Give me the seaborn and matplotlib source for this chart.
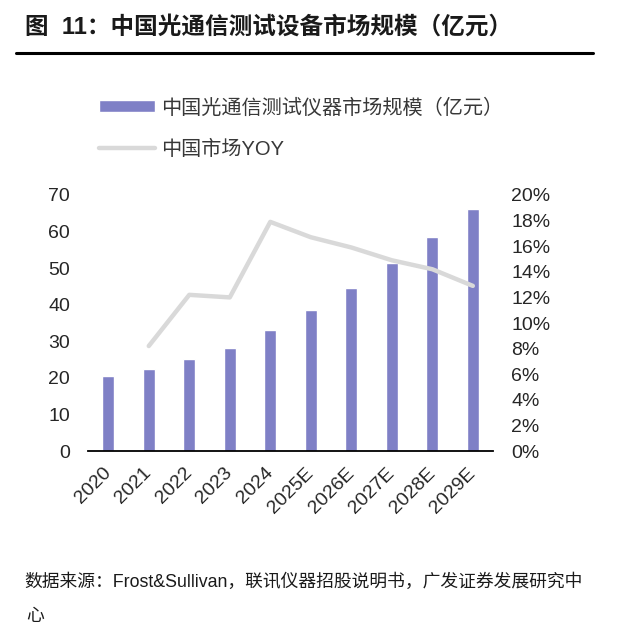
import numpy as np
import pandas as pd
import matplotlib
matplotlib.use('Agg')
import matplotlib.pyplot as plt
from matplotlib.ticker import PercentFormatter
import seaborn as sns

# Data
years = ['2020', '2021', '2022', '2023', '2024',
         '2025E', '2026E', '2027E', '2028E', '2029E']
market_size = [20.5, 22.3, 25.1, 28.1, 33.0, 38.6, 44.7, 51.3, 58.5, 66.1]
yoy_years = years[1:]
yoy = [0.082, 0.122, 0.120, 0.179, 0.167, 0.159, 0.149, 0.142, 0.129]

title = '图  11：中国光通信测试设备市场规模（亿元）'
bar_label = '中国光通信测试仪器市场规模（亿元）'
line_label = '中国市场YOY'
source = '数据来源：Frost&Sullivan，联讯仪器招股说明书，广发证券发展研究中'

bar_color = '#7f80c6'
line_color = '#d9d9d9'

sns.set_style('white')
plt.rcParams['font.family'] = ['Liberation Sans', 'Noto Sans CJK SC']

bars_df = pd.DataFrame({'year': years, 'size': market_size})
yoy_df = pd.DataFrame({'year': yoy_years, 'yoy': yoy})

fig = plt.figure(figsize=(6.33, 6.30), dpi=100)
ax = fig.add_axes([0.139, 0.2841, 0.640, 0.4064])

sns.barplot(data=bars_df, x='year', y='size', color=bar_color,
            width=0.30, saturation=1, ax=ax, label=bar_label)

ax2 = ax.twinx()
sns.lineplot(data=yoy_df, x='year', y='yoy', color=line_color,
             linewidth=3.2, ax=ax2, label=line_label, sort=False)
for ln in ax2.lines:
    ln.set_solid_capstyle('round')

ax.set_xlim(-0.5, 9.5)
ax.set_ylim(0, 70)
ax.set_yticks(np.arange(0, 71, 10))
ax2.set_ylim(0, 0.20)
ax2.set_yticks(np.arange(0, 0.201, 0.02))
ax2.yaxis.set_major_formatter(PercentFormatter(1.0, decimals=0))

ax.set_xlabel('')
ax.set_ylabel('')
ax2.set_ylabel('')

for a in (ax, ax2):
    for side in ('top', 'right', 'left', 'bottom'):
        a.spines[side].set_visible(False)
ax.spines['bottom'].set_visible(True)
ax.spines['bottom'].set_color('black')
ax.spines['bottom'].set_linewidth(1.3)

ax.tick_params(axis='y', length=0, pad=13, labelsize=14)
ax2.tick_params(axis='y', length=0, pad=13, labelsize=14)
ax.tick_params(axis='x', length=0, pad=14, labelsize=14)
for lbl in ax.get_xticklabels():
    lbl.set_rotation(45)
    lbl.set_ha('right')
    lbl.set_va('center')
    lbl.set_rotation_mode('anchor')

# legend
handles = ax.get_legend_handles_labels()[0] + ax2.get_legend_handles_labels()[0]
labels = [bar_label, line_label]
if ax.get_legend():
    ax.get_legend().remove()
if ax2.get_legend():
    ax2.get_legend().remove()
leg = fig.legend(handles, labels, loc='upper left',
                 bbox_to_anchor=(0.143, 0.857), frameon=False,
                 fontsize=14.5, handlelength=2.8, handleheight=0.55,
                 handletextpad=0.3, labelspacing=1.1, borderaxespad=0)
for t in leg.get_texts():
    t.set_color('#383838')

# title, rule and source
fig.text(0.039, 0.957, title, fontsize=17, fontweight='bold',
         va='center', ha='left', color='#1a1a1a')
fig.add_artist(plt.Line2D([0.025, 0.937], [0.916, 0.916],
                          color='black', linewidth=2.2))
fig.text(0.039, 0.076, source, fontsize=12.8, va='center', ha='left',
         color='#1a1a1a')
fig.text(0.042, 0.022, '心', fontsize=12.8, va='center', ha='left',
         color='#1a1a1a')

fig.savefig('out.png', dpi=100)
